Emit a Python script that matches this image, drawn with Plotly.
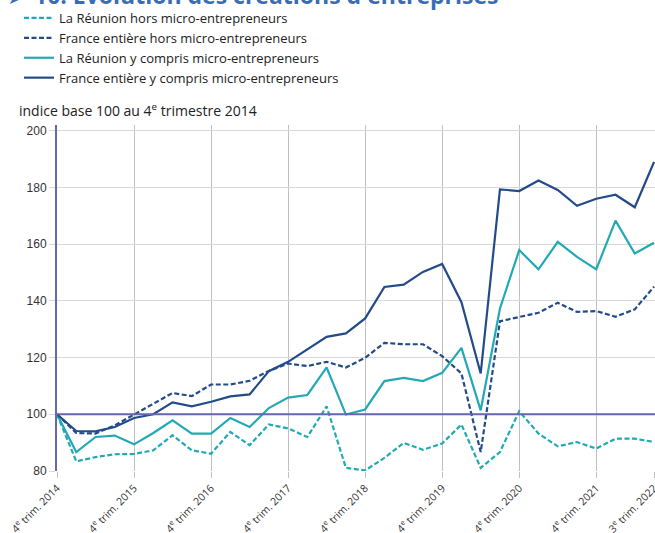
import plotly.graph_objects as go

# ---- data ----
years = list(range(2015, 2023))
quarters = ["4e trim. 2014"]
for y in years:
    for q in ["1er", "2e", "3e", "4e"]:
        quarters.append(f"{q} trim. {y}")
quarters = quarters[:32]  # 4e trim. 2014 -> 3e trim. 2022

tick_quarters = ["4e trim. 2014", "4e trim. 2015", "4e trim. 2016", "4e trim. 2017",
                 "4e trim. 2018", "4e trim. 2019", "4e trim. 2020", "4e trim. 2021",
                 "3e trim. 2022"]
tick_labels = ["4<sup>e</sup> trim. 2014", "4<sup>e</sup> trim. 2015", "4<sup>e</sup> trim. 2016",
               "4<sup>e</sup> trim. 2017", "4<sup>e</sup> trim. 2018", "4<sup>e</sup> trim. 2019",
               "4<sup>e</sup> trim. 2020", "4<sup>e</sup> trim. 2021", "3<sup>e</sup> trim. 2022"]

reunion_hors = [100, 83.4, 84.9, 85.9, 86.0, 87.3, 92.6, 87.3, 86.1, 93.8, 89.1, 96.4, 95.0, 92.0,
                102.8, 81.1, 80.2, 84.6, 89.9, 87.5, 89.7, 96.4, 81.1, 86.7, 101.1, 93.2, 88.7,
                90.2, 87.9, 91.4, 91.4, 90.2]
france_hors = [100, 93.4, 93.2, 96.1, 99.9, 103.8, 107.5, 106.4, 110.5, 110.5, 111.8, 115.3, 117.9,
               117.0, 118.5, 116.5, 119.9, 125.2, 124.7, 124.7, 120.5, 114.4, 86.7, 132.8, 134.4,
               135.8, 139.3, 136.1, 136.4, 134.4, 137.0, 145.0]
reunion_y = [100, 86.7, 92.0, 92.5, 89.4, 93.4, 97.9, 93.2, 93.2, 98.7, 95.5, 102.2, 105.9, 106.8,
             116.5, 99.9, 101.7, 111.7, 112.8, 111.7, 114.6, 123.4, 101.4, 137.3, 157.9, 151.1,
             160.8, 155.5, 151.1, 168.3, 156.7, 160.5]
france_y = [100, 94.1, 94.0, 95.5, 98.7, 100.0, 104.2, 102.8, 104.4, 106.3, 107.0, 115.2, 118.5,
            122.9, 127.3, 128.5, 133.8, 144.9, 145.7, 150.2, 153.0, 139.5, 114.4, 179.3, 178.7,
            182.4, 179.1, 173.5, 176.0, 177.4, 173.0, 189.0]

series_names = ["La Réunion hors micro-entrepreneurs",
                "France entière hors micro-entrepreneurs",
                "La Réunion y compris micro-entrepreneurs",
                "France entière y compris micro-entrepreneurs"]

TEAL = "#22a9b4"
NAVY = "#234b88"
PURPLE = "#6565b0"
DASH = "5px,2.5px"

W, H = 655, 533
ML, MR, MT, MB = 57, 0, 125, 62
PH = H - MT - MB


def py(pix):
    return 1 + (MT - pix) / PH


def px(pix):
    return (pix - ML) / (W - ML - MR)


fig = go.Figure()
specs = [(reunion_hors, TEAL, DASH), (france_hors, NAVY, DASH),
         (reunion_y, TEAL, "solid"), (france_y, NAVY, "solid")]
for (vals, col, dash), name in zip(specs, series_names):
    fig.add_trace(go.Scatter(x=quarters, y=vals, mode="lines", name=name,
                             line=dict(color=col, width=2.2, dash=dash)))

fig.add_shape(type="line", xref="paper", yref="y", x0=0, x1=1, y0=100, y1=100,
              line=dict(color=PURPLE, width=2), layer="above")

fig.update_layout(
    width=W, height=H,
    margin=dict(l=ML, r=MR, t=MT, b=MB, pad=0, autoexpand=False),
    paper_bgcolor="white", plot_bgcolor="white",
    showlegend=True,
    legend=dict(x=px(19), y=py(3), xanchor="left", yanchor="top",
                font=dict(family="Open Sans", size=13, color="#222"),
                bgcolor="rgba(0,0,0,0)", tracegroupgap=0, itemwidth=30),
    font=dict(family="Open Sans", color="#222"),
)

fig.update_xaxes(type="category", range=[0, 31.05], automargin=False,
                 tickmode="array", tickvals=tick_quarters, ticktext=tick_labels,
                 tickangle=-45, tickfont=dict(family="Open Sans", size=10.5, color="#333"),
                 showgrid=True, gridcolor="#c0c0c0", gridwidth=1,
                 ticks="outside", ticklen=6, tickcolor="#c0c0c0",
                 showline=False, zeroline=False)
fig.update_yaxes(range=[80, 202], automargin=False,
                 tickvals=[80, 100, 120, 140, 160, 180, 200],
                 tickfont=dict(family="Liberation Sans", size=12, color="#333"),
                 showgrid=True, gridcolor="#d8d8d8", gridwidth=1,
                 ticks="outside", ticklen=6, tickcolor="#d8d8d8",
                 showline=True, linecolor=PURPLE, linewidth=2, zeroline=False)

# title (mostly cropped at top in reference)
fig.add_annotation(xref="paper", yref="paper", x=px(6), y=py(-2), xanchor="left",
                   yanchor="middle", showarrow=False,
                   text="➤", font=dict(family="DejaVu Sans", size=16, color="#3a6cb6"))
fig.add_annotation(xref="paper", yref="paper", x=px(32), y=py(-5), xanchor="left",
                   yanchor="middle", showarrow=False,
                   text="<b>10. Évolution des créations d'entreprises</b>",
                   font=dict(family="Open Sans", size=23, color="#3a6cb6"))
# unit label
fig.add_annotation(xref="paper", yref="paper", x=px(17), y=py(110), xanchor="left",
                   yanchor="middle", showarrow=False,
                   text="indice base 100 au 4<sup>e</sup> trimestre 2014",
                   font=dict(family="Open Sans", size=14, color="#222"))

fig.write_html("out.html", config={"displayModeBar": False},
               post_script="document.body.style.margin='0px';")
